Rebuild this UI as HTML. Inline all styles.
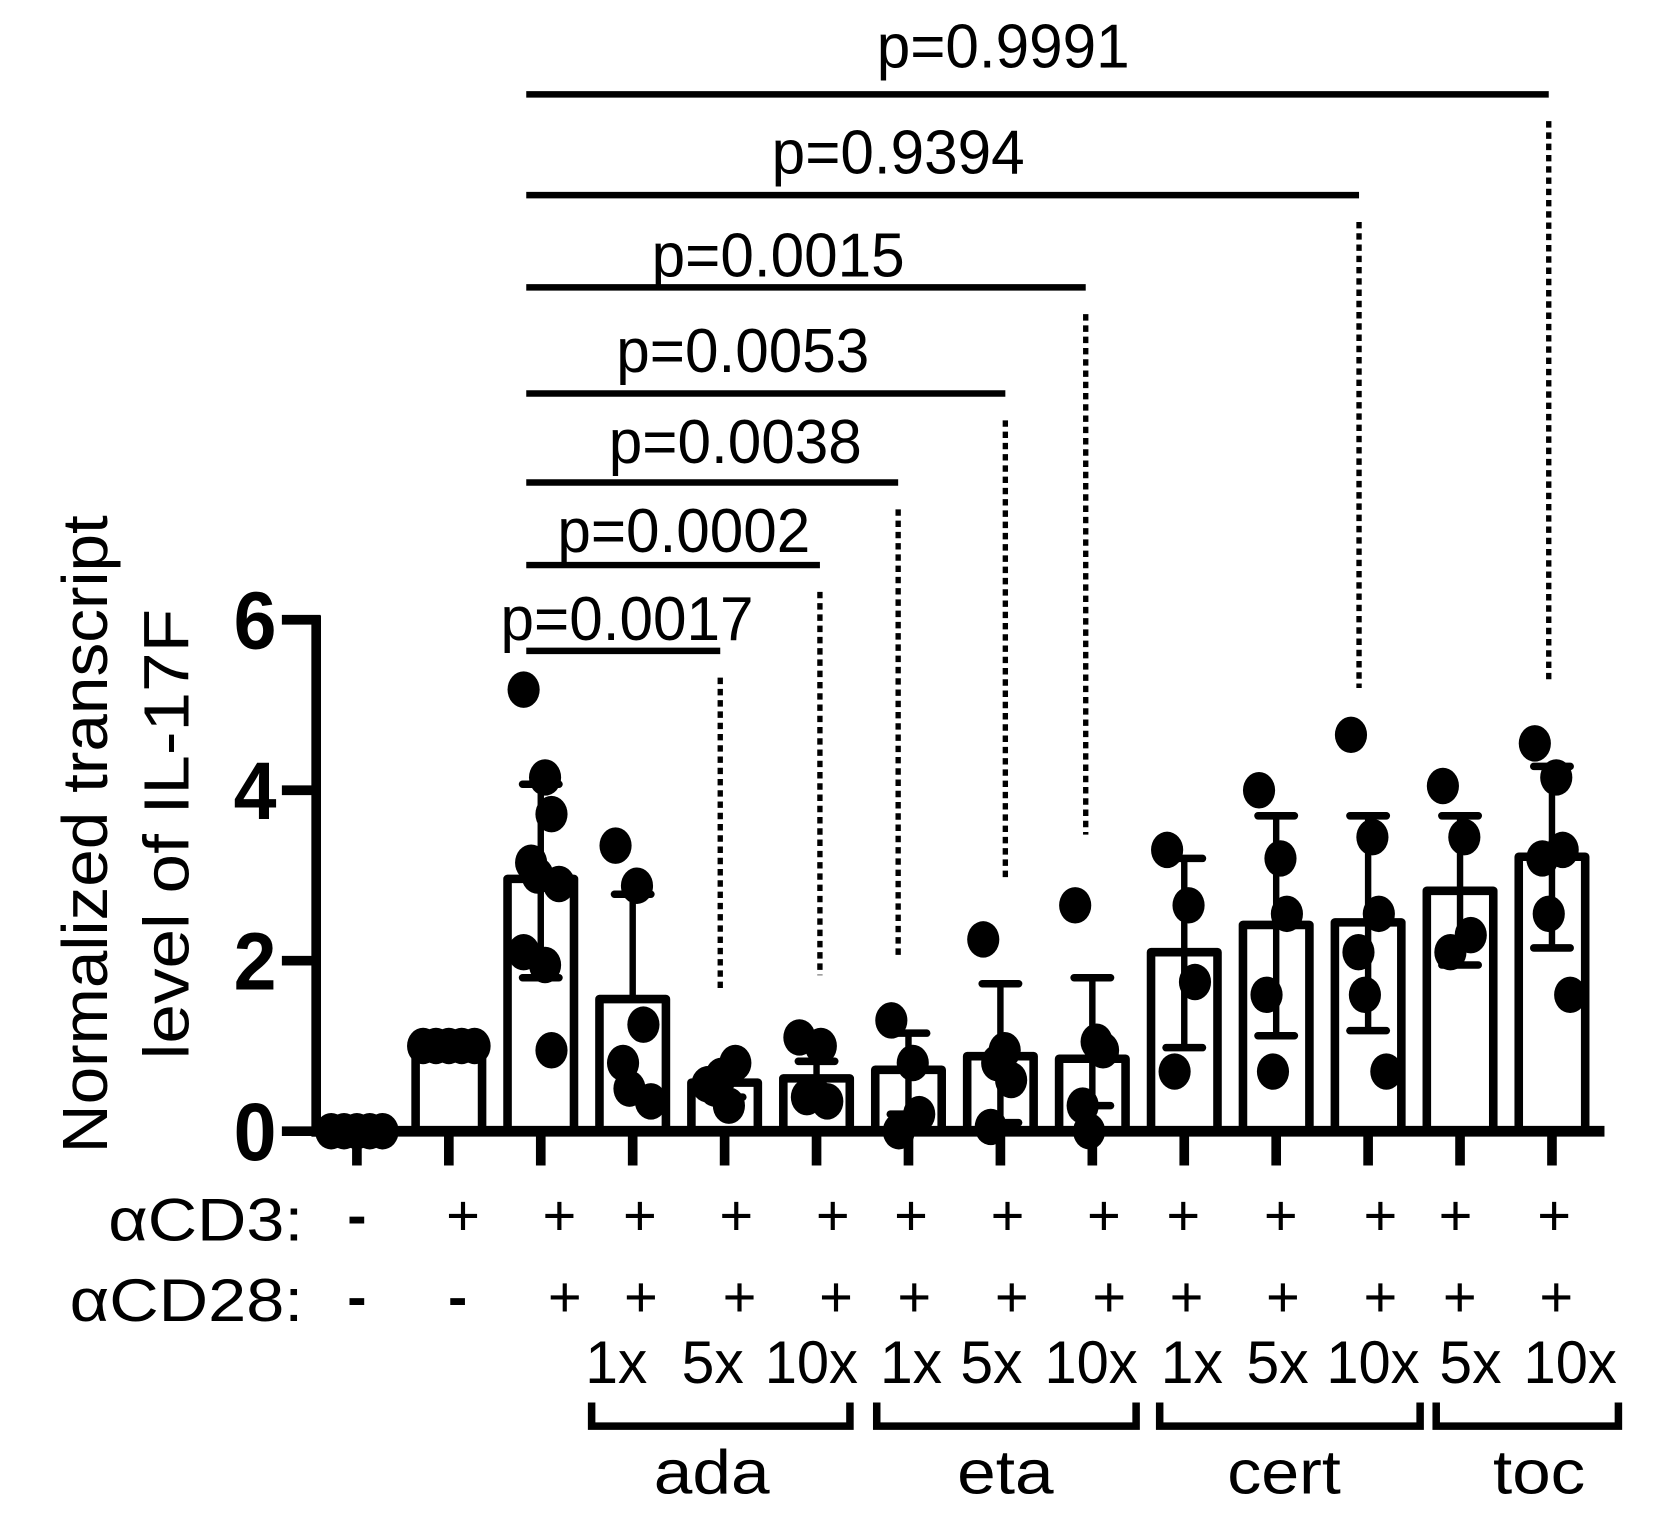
<!DOCTYPE html>
<html><head><meta charset="utf-8"><style>
html,body{margin:0;padding:0;background:#fff}
svg{display:block}
text{font-family:"Liberation Sans",sans-serif;fill:#000}
</style></head><body>
<svg id="chart" width="1672" height="1514" viewBox="0 0 1560 1412" preserveAspectRatio="none" xmlns="http://www.w3.org/2000/svg">
<g id="plot"></g>
<g>
<text transform="translate(100,778) rotate(-90)" text-anchor="middle" font-size="60" textLength="595" lengthAdjust="spacingAndGlyphs">Normalized transcript</text>
<text transform="translate(176,778) rotate(-90)" text-anchor="middle" font-size="60" textLength="420" lengthAdjust="spacingAndGlyphs">level of IL-17F</text>
</g>
<text x="283" y="1157" text-anchor="end" font-size="56" textLength="182" lengthAdjust="spacingAndGlyphs">αCD3:</text>
<text x="283" y="1232" text-anchor="end" font-size="56" textLength="218" lengthAdjust="spacingAndGlyphs">αCD28:</text>
</svg>
<script>
const categories=['ctrl','cd3','cd3cd28','ada1x','ada5x','ada10x','eta1x','eta5x','eta10x','cert1x','cert5x','cert10x','toc5x','toc10x'];
const means=[0,1,2.96,1.55,0.57,0.62,0.72,0.88,0.85,2.1,2.42,2.45,2.82,3.22];
const sdHigh=[0,1,4.07,2.78,0.72,0.82,1.15,1.73,1.8,3.2,3.7,3.7,3.7,4.28];
const sdLow=[0,1,1.8,1.55,0.4,0.4,0.2,0.1,0.3,0.98,1.12,1.18,1.95,2.15];
const points=[[0,0,0,0,0],[1,1,1,1,1],[5.18,4.15,3.72,3.15,3.0,2.9,2.1,1.95,0.95],[3.35,2.88,1.25,0.8,0.5,0.35],[0.55,0.3,0.8,0.5,0.65],[1.1,1.0,0.35,0.4,0.45],[1.3,0.8,0.2,0.0],[2.25,0.95,0.6,0.05,0.8],[2.65,1.05,0.95,0.3,0.0],[3.3,2.65,1.75,0.7],[4.0,3.2,2.55,1.6,0.7],[4.65,3.45,2.55,2.1,1.6,0.7],[4.05,3.45,2.3,2.1],[4.55,4.15,3.3,3.2,2.55,1.6]];
const yTicks=[0,2,4,6];
const pLabels=['p=0.0017','p=0.0002','p=0.0038','p=0.0053','p=0.0015','p=0.9394','p=0.9991'];
const pTopValues=[1.68,1.83,2.05,2.95,3.48,5.2,5.3];
const cd3Signs=['-','+','+','+','+','+','+','+','+','+','+','+','+','+'];
const cd28Signs=['-','-','+','+','+','+','+','+','+','+','+','+','+','+'];
const doseLabels=['1x','5x','10x','1x','5x','10x','1x','5x','10x','5x','10x'];
const groups=['ada','eta','cert','toc'];

const NS='http://www.w3.org/2000/svg';
const svg=document.getElementById('chart');
const plot=document.getElementById('plot');
const y=v=>1055-v*79.5;
const x=i=>333+i*85.77;
function mk(tag,attrs,parent){const e=document.createElementNS(NS,tag);for(const k in attrs)e.setAttribute(k,attrs[k]);(parent||plot).appendChild(e);return e;}

const yAxis=mk('line',{x1:295,x2:295,y1:y(6)-4,y2:y(0)+5,stroke:'#000','stroke-width':9});


yTicks.forEach(t=>{
  const tk=mk('line',{x1:263,x2:299,y1:y(t),y2:y(t),stroke:'#000','stroke-width':9});
  
  
  const tl=mk('text',{x:258,y:y(t)+27,'text-anchor':'end','font-size':76,'font-weight':'bold',textLength:40,lengthAdjust:'spacingAndGlyphs'});
  tl.textContent=t;
  
  
});

categories.forEach((c,i)=>{
  const cx=x(i),bw=62,top=y(means[i]);
  const bar=mk('rect',{x:cx-bw/2,y:top,width:bw,height:y(0)-top,fill:'none',stroke:'#000','stroke-width':8,'stroke-linejoin':'round'});
  
  
  if(sdHigh[i]!==sdLow[i]){
    const eb=mk('g',{});
    
    
    mk('line',{x1:cx,x2:cx,y1:y(sdHigh[i]),y2:y(sdLow[i]),stroke:'#000','stroke-width':6},eb);
    mk('line',{x1:cx-17,x2:cx+17,y1:y(sdHigh[i]),y2:y(sdHigh[i]),stroke:'#000','stroke-width':7,'stroke-linecap':'round'},eb);
    mk('line',{x1:cx-17,x2:cx+17,y1:y(sdLow[i]),y2:y(sdLow[i]),stroke:'#000','stroke-width':7,'stroke-linecap':'round'},eb);
  }
  points[i].forEach((v,j)=>{
    const off=(i<2)?(j-2)*12:((j%3)-1)*13+(j%2?4:-3);
    const d=mk('ellipse',{cx:cx+off,cy:y(v),rx:15,ry:17,fill:'#000'});
    
    
  });
  const xt=mk('line',{x1:cx,x2:cx,y1:y(0),y2:y(0)+32,stroke:'#000','stroke-width':9});
  
  
});
const xAxis=mk('line',{x1:291,x2:1497,y1:y(0),y2:y(0),stroke:'#000','stroke-width':10});



const lineYs=[607,527,450,367,268,182,88];
const lineEnds=[672,765,838,938,1013,1268,1445];
const labelCx=[585,638,686,693,726,838,936];
const labelBase=[597,515,432,347,258,162,63];
pLabels.forEach((p,k)=>{
  const g=mk('g',{});
  
  
  const ly=lineYs[k],lx=lineEnds[k];
  mk('line',{x1:491,x2:lx,y1:ly,y2:ly,stroke:'#000','stroke-width':6},g);
  mk('line',{x1:lx,x2:lx,y1:ly+25,y2:y(pTopValues[k]),stroke:'#000','stroke-width':5,'stroke-dasharray':'6 4.5'},g);
  const t=mk('text',{x:labelCx[k],y:labelBase[k],'text-anchor':'middle','font-size':58,textLength:236,lengthAdjust:'spacingAndGlyphs'},g);
  t.textContent=p;
  
  
});

const cd3X=[333,432,522,597,687,777,850,940,1030,1104,1195,1288,1358,1450];
const cd28X=[333,427,527,598,690,780,853,944,1035,1107,1197,1288,1362,1452];
cd3Signs.forEach((s,i)=>{const t=mk('text',{x:cd3X[i],y:1152,'text-anchor':'middle','font-size':54,'font-weight':s==='+'?'normal':'bold'},svg);t.textContent=s;
  });
cd28Signs.forEach((s,i)=>{const t=mk('text',{x:cd28X[i],y:1228,'text-anchor':'middle','font-size':54,'font-weight':s==='+'?'normal':'bold'},svg);t.textContent=s;
  });
const doseX=[575,665,757,850,925,1018,1112,1192,1281,1372,1465];
doseLabels.forEach((d,i)=>{const t=mk('text',{x:doseX[i],y:1290,'text-anchor':'middle','font-size':56,textLength:d.length*29,lengthAdjust:'spacingAndGlyphs'},svg);t.textContent=d;
  });
const groupEdges=[[552,793],[818,1060],[1082,1325],[1340,1510]];
const groupNameX=[664,938,1198,1436];
const groupW=[108,90,106,86];
groups.forEach((g,i)=>{
  const [a,b]=groupEdges[i];
  const br=mk('path',{d:`M${a},1308 L${a},1330 L${b},1330 L${b},1308`,fill:'none',stroke:'#000','stroke-width':7},svg);
  
  
  const t=mk('text',{x:groupNameX[i],y:1393,'text-anchor':'middle','font-size':58,textLength:groupW[i],lengthAdjust:'spacingAndGlyphs'},svg);
  t.textContent=g;
  
  
});
</script>
</body></html>
